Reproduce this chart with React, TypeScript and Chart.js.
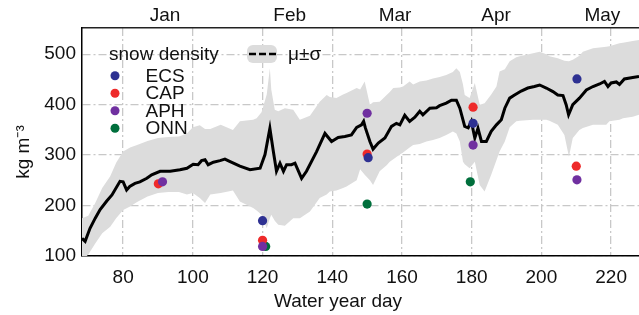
import React, { useEffect, useRef } from 'react';
import { Chart, registerables } from 'chart.js';
Chart.register(...registerables);

// ---- data ----
const meanDays = [68.2, 69.1, 70.5, 72, 73.4, 75.3, 76.8, 79.1, 80, 81, 81.9, 83.4, 84.8, 86.8, 88.2, 90.6, 93.5, 96.3, 98.3, 100.1, 101.5, 102.5, 103.5, 104.4, 105.9, 107.8, 109.2, 110.7, 113.5, 116.4, 119.3, 120.7, 122.1, 123.1, 124, 125, 126, 126.9, 128.3, 129.3, 131.2, 132.6, 135.5, 137.9, 139.8, 141.7, 143.6, 145.5, 147, 148.4, 149, 149.5, 150.8, 151.7, 153.2, 155.1, 157, 158.4, 159.4, 160.8, 162.2, 163.7, 165.1, 166, 168, 169.9, 170.8, 172.7, 174.2, 175.6, 176.6, 178, 179, 179.9, 180.9, 181.8, 182.8, 184.2, 185.6, 187.1, 188.5, 189.5, 190.9, 192.3, 194.2, 196.1, 198, 199.5, 201.4, 203.3, 204.7, 206.2, 207.1, 207.8, 209, 210.9, 212.9, 214.8, 216.7, 218.1, 219.1, 220, 221.5, 222.4, 223.8, 226.2, 228];
const meanDensity = [135, 129, 155, 175, 192, 209, 221, 248, 247, 231, 238, 244, 247, 254, 261, 268, 268, 271, 274, 282, 281, 289, 291, 281, 286, 289, 292, 287, 278, 271, 274, 301, 353, 307, 268, 284, 268, 281, 281, 284, 254, 268, 307, 343, 327, 335, 337, 340, 355, 360, 367, 354, 327, 312, 324, 334, 357, 363, 360, 379, 367, 375, 387, 380, 393, 394, 398, 403, 409, 409, 393, 357, 354, 367, 334, 353, 327, 327, 347, 360, 370, 393, 413, 419, 427, 433, 436, 439, 433, 426, 419, 418, 400, 380, 400, 413, 429, 436, 441, 446, 436, 443, 445, 440, 451, 454, 456];

const bandDays = [68.2, 70, 72, 74, 76.3, 78, 80, 82, 84, 87, 90, 93, 96, 98.3, 100, 102, 103.5, 105, 108, 111.5, 113.5, 117.3, 118.3, 119.7, 121.2, 122.1, 122.5, 123.5, 124.5, 126.4, 128.8, 130.7, 133.6, 136.4, 138.4, 139.3, 141.2, 143.1, 144.1, 147, 148, 149.3, 150.8, 151.7, 153.6, 155.6, 156.5, 157.5, 159.4, 160.3, 162.2, 163.2, 165.1, 167, 168.9, 170.8, 172.7, 174.6, 175.6, 176.6, 177.5, 178, 179.4, 180.9, 182.3, 183.7, 185.6, 187.1, 188, 189.5, 190.9, 192.8, 193.8, 197.6, 199.5, 201.4, 202.3, 204.7, 206.6, 207.9, 209, 210.9, 211.9, 214.8, 218.6, 219.5, 222.4, 223.4, 226.2, 228];
const bandUpper = [175, 180, 205, 235, 258, 285, 307, 315, 320, 328, 334, 336, 337, 343, 355, 359, 352, 352, 360, 350, 367, 370, 373, 385, 420, 472, 430, 390, 387, 393, 390, 370, 378, 406, 419, 415, 413, 420, 423, 433, 430, 446, 400, 405, 406, 419, 425, 433, 434, 436, 446, 440, 446, 448, 452, 455, 459, 465, 472, 465, 440, 419, 413, 443, 400, 403, 420, 436, 466, 470, 486, 494, 496, 502, 505, 500, 496, 492, 487, 486, 489, 497, 505, 512, 515, 516, 522, 523, 526, 528];
const bandLower = [90, 103, 125, 145, 158, 175, 191, 198, 207, 218, 225, 227, 227, 222, 225, 215, 205, 222, 225, 230, 208, 195, 190, 182, 155, 175, 182, 170, 162, 160, 175, 175, 188, 215, 222, 228, 230, 235, 238, 250, 272, 261, 250, 241, 268, 280, 287, 292, 301, 305, 315, 320, 322, 327, 330, 334, 340, 347, 343, 327, 287, 282, 274, 287, 241, 228, 261, 290, 307, 327, 355, 367, 368, 370, 370, 370, 368, 360, 340, 297, 334, 350, 354, 360, 360, 367, 370, 373, 376, 380];

const ecsDays = [120, 150.3, 180.4, 210.2];
const ecsDensity = [170, 295, 363, 451];
const capDays = [90.1, 120, 150, 180.4, 210];
const capDensity = [243, 131, 302, 395, 278];
const aphDays = [91.3, 120, 150, 180.4, 210.2];
const aphDensity = [247, 119, 383, 320, 251];
const onnDays = [120.9, 150, 179.6];
const onnDensity = [119, 203, 247];

const xTicks = [80, 100, 120, 140, 160, 180, 200, 220];
const yTicks = [100, 200, 300, 400, 500];
const monthDays = [92, 127.8, 158, 187, 217.5];
const monthLabels = ['Jan', 'Feb', 'Mar', 'Apr', 'May'];

const seriesNames = ['ECS', 'CAP', 'APH', 'ONN'];
const seriesColors = ['#2e3192', '#ee2a2a', '#7030a0', '#006f3c'];

const FONT = "'Liberation Sans', Arial, sans-serif";
const BAND = '#dcdcdc';

const pts = (xs: number[], ys: number[]) => xs.map((x, i) => ({ x, y: ys[i] }));

const overlay = {
  id: 'overlay',
  afterDraw(chart: any) {
    const ctx = chart.ctx as CanvasRenderingContext2D;
    ctx.save();
    ctx.fillStyle = '#111';
    ctx.font = `19px ${FONT}`;
    ctx.textBaseline = 'alphabetic';
    // legend: snow density
    ctx.textAlign = 'left';
    ctx.fillText('snow density', 109, 60);
    const baseY = [81.7, 99.3, 116.8, 134.3];
    seriesNames.forEach((n, i) => {
      ctx.fillStyle = seriesColors[i];
      ctx.beginPath();
      ctx.arc(115, baseY[i] - 6, 4.5, 0, Math.PI * 2);
      ctx.fill();
      ctx.fillStyle = '#111';
      ctx.fillText(n, 145.5, baseY[i]);
    });
    // legend: mu +- sigma
    ctx.fillStyle = BAND;
    ctx.beginPath();
    (ctx as any).roundRect(247, 45, 30, 18, 6);
    ctx.fill();
    ctx.strokeStyle = '#000';
    ctx.lineWidth = 2.5;
    ctx.setLineDash([7, 3]);
    ctx.beginPath();
    ctx.moveTo(249, 54);
    ctx.lineTo(277, 54);
    ctx.stroke();
    ctx.setLineDash([]);
    ctx.fillStyle = '#111';
    ctx.fillText('\u03bc\u00b1\u03c3', 288, 60);
    // axis titles
    ctx.textAlign = 'center';
    ctx.fillText('Water year day', 338, 307);
    ctx.translate(28.5, 152);
    ctx.rotate(-Math.PI / 2);
    ctx.fillText('kg m\u207b\u00b3', 0, 0);
    ctx.restore();
  },
};

export default function App() {
  const ref = useRef<HTMLCanvasElement>(null);
  useEffect(() => {
    document.body.style.margin = '0';
    const mk = (name: string, xs: number[], ys: number[], color: string, order: number) => ({
      type: 'scatter' as const,
      label: name,
      data: pts(xs, ys),
      backgroundColor: color,
      borderWidth: 0,
      pointRadius: 4.6,
      order,
    });
    const fitX = (h: number) => (s: any) => {
      s.height = h;
      s.paddingLeft = 0;
      s.paddingRight = 0;
    };
    const chart = new Chart(ref.current!, {
      type: 'line',
      data: {
        datasets: [
          mk('APH', aphDays, aphDensity, seriesColors[2], 0),
          mk('ECS', ecsDays, ecsDensity, seriesColors[0], 1),
          mk('CAP', capDays, capDensity, seriesColors[1], 2),
          mk('ONN', onnDays, onnDensity, seriesColors[3], 3),
          {
            type: 'line',
            label: 'mean',
            data: pts(meanDays, meanDensity),
            borderColor: '#000',
            borderWidth: 3,
            pointRadius: 0,
            tension: 0,
            fill: false,
            order: 4,
          },
          {
            type: 'line',
            label: 'upper',
            data: pts(bandDays, bandUpper),
            borderWidth: 0,
            borderColor: 'rgba(0,0,0,0)',
            backgroundColor: BAND,
            pointRadius: 0,
            tension: 0,
            fill: '+1',
            order: 5,
          },
          {
            type: 'line',
            label: 'lower',
            data: pts(bandDays, bandLower),
            borderWidth: 0,
            borderColor: 'rgba(0,0,0,0)',
            pointRadius: 0,
            tension: 0,
            fill: false,
            order: 6,
          },
        ],
      } as any,
      options: {
        animation: false,
        responsive: false,
        devicePixelRatio: 1,
        layout: { padding: 0, autoPadding: false },
        plugins: {
          legend: { display: false },
          tooltip: { enabled: false },
          filler: { drawTime: 'beforeDatasetsDraw' },
        } as any,
        scales: {
          x: {
            type: 'linear',
            position: 'bottom',
            min: 68.2,
            max: 228,
            afterBuildTicks: (s: any) => { s.ticks = xTicks.map((v) => ({ value: v })); },
            afterFit: fitX(59),
            ticks: { font: { family: FONT, size: 19 }, color: '#111', padding: 10, maxRotation: 0 },
            grid: { color: '#c8c8c8', lineWidth: 1.3, drawTicks: false },
            border: { display: true, color: '#000', width: 1.5, dash: [8, 3, 2, 3] },
          },
          x2: {
            type: 'linear',
            position: 'top',
            min: 68.2,
            max: 228,
            afterBuildTicks: (s: any) => { s.ticks = monthDays.map((v) => ({ value: v })); },
            afterFit: fitX(28),
            ticks: {
              font: { family: FONT, size: 19 },
              color: '#111',
              padding: 1,
              maxRotation: 0,
              callback: (_v: any, i: number) => monthLabels[i],
            },
            grid: { display: false, drawTicks: false },
            border: { display: true, color: '#222', width: 1.5 },
          },
          y: {
            type: 'linear',
            min: 100,
            max: 552,
            afterBuildTicks: (s: any) => { s.ticks = yTicks.map((v) => ({ value: v })); },
            afterFit: (s: any) => {
              s.width = 82;
              s.paddingTop = 0;
              s.paddingBottom = 0;
            },
            ticks: { font: { family: FONT, size: 19 }, color: '#111', padding: 6 },
            grid: { color: '#c8c8c8', lineWidth: 1.3, drawTicks: false },
            border: { display: true, color: '#000', width: 1.5, dash: [8, 3, 2, 3] },
          },
        },
      } as any,
      plugins: [overlay],
    });
    return () => chart.destroy();
  }, []);
  return (
    <div style={{ position: 'fixed', left: 0, top: 0, width: 639, height: 315, background: '#fff' }}>
      <canvas ref={ref} width={639} height={315} style={{ display: 'block' }} />
    </div>
  );
}
